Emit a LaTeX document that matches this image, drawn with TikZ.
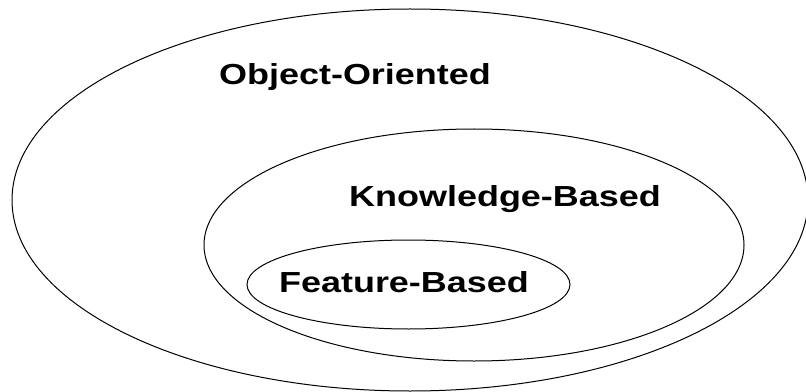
\documentclass[tikz,border=0pt]{standalone}
\usepackage{fontspec}
\setmainfont{Liberation Sans}
\usepackage{graphicx}

\tikzset{every picture/.style={line width=0.75pt}}
\tikzset{setlabel/.style={anchor=base,inner sep=0.75pt,font=\fontsize{21.75}{26}\selectfont\bfseries}}
\newcommand{\widelabel}[1]{\scalebox{1.24}[1]{#1}}

\begin{document}
\begin{tikzpicture}[x=0.75pt,y=0.75pt,yscale=-1,xscale=1]
\useasboundingbox (0,0) rectangle (806,392); %set diagram at 806 x 392

%Shape: Ellipse [id:outer]
\draw  [color={rgb, 255:red, 0; green, 0; blue, 0 }  ,draw opacity=1 ] (410,200) ellipse (398 and 191) ;
%Shape: Ellipse [id:middle]
\draw  [color={rgb, 255:red, 0; green, 0; blue, 0 }  ,draw opacity=1 ] (474,245) ellipse (270 and 116) ;
%Shape: Ellipse [id:inner]
\draw  [color={rgb, 255:red, 0; green, 0; blue, 0 }  ,draw opacity=1 ] (408.5,284.5) ellipse (161.5 and 44.5) ;

% Text Node
\node [setlabel] (objectoriented) at (355,85) {\widelabel{Object-Oriented}};
% Text Node
\node [setlabel] (knowledgebased) at (505,206) {\widelabel{Knowledge-Based}};
% Text Node
\node [setlabel] (featurebased) at (404,292) {\widelabel{Feature-Based}};

\end{tikzpicture}
\end{document}
